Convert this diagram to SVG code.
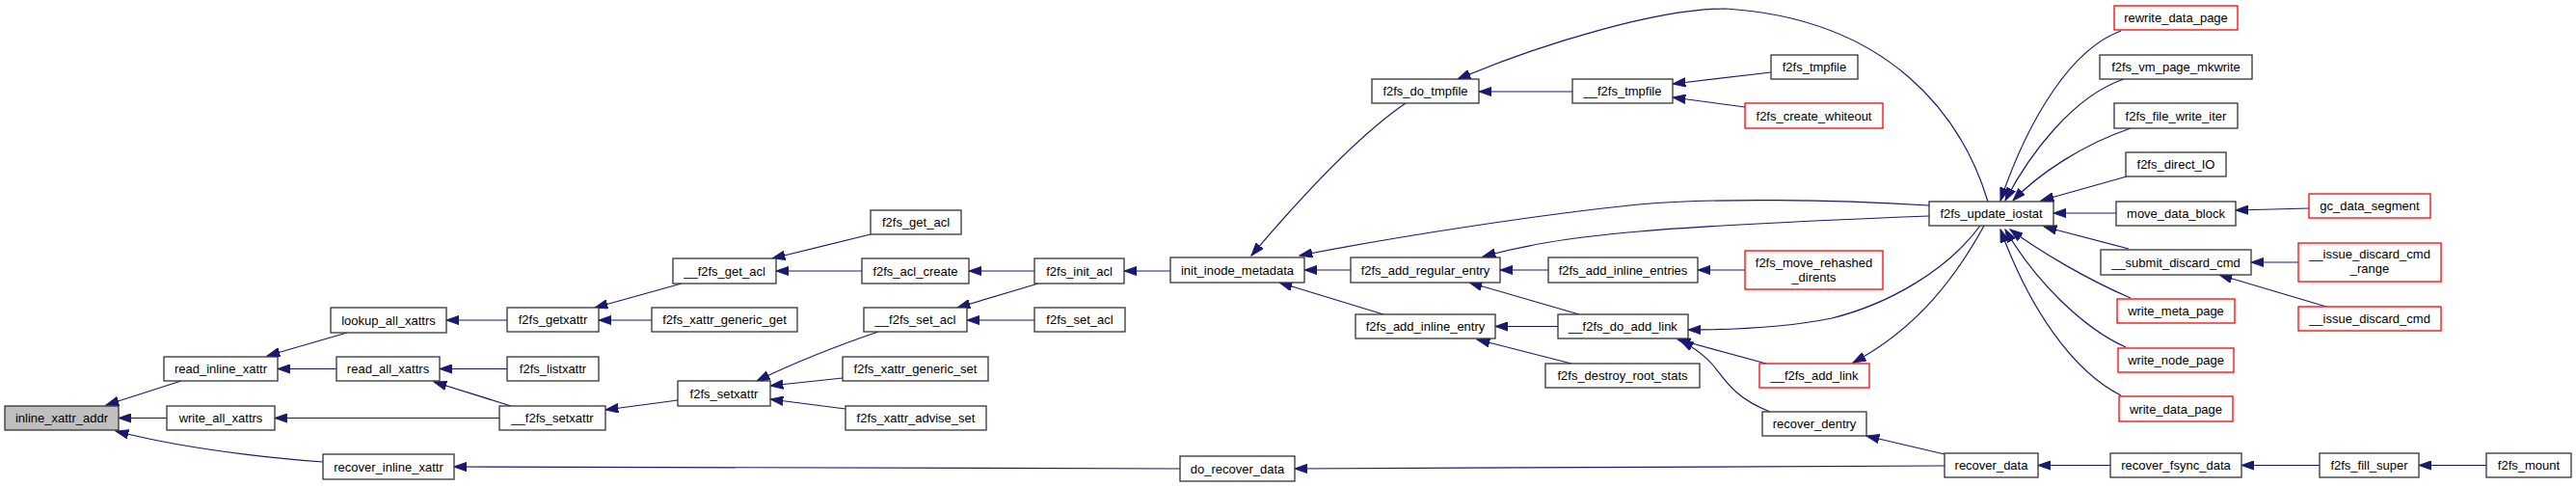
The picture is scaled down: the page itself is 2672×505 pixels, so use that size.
<svg xmlns="http://www.w3.org/2000/svg" width="2672" height="505" viewBox="0 0 2672 505">
<defs>
<style>
.n rect{fill:#fff;stroke:#333;stroke-width:1.3}
.n.root rect{fill:#bfbfbf}
.n.red rect{stroke:#f00}
.n text{font-family:"Liberation Sans",Arial,sans-serif;font-size:13px;text-anchor:middle;fill:#000}
#edges path{fill:none;stroke:#191970;stroke-width:1.2;marker-end:url(#ah)}
</style>
<marker id="ah" markerUnits="userSpaceOnUse" markerWidth="14" markerHeight="10" refX="13.3" refY="5" orient="auto" viewBox="0 0 14 10"><path d="M0,0.3 L13.3,5 L0,9.7 z" fill="#191970" stroke="#191970" stroke-width="1"/></marker>
</defs>
<rect width="2672" height="505" fill="#fff"/>
<g id="edges">
<path d="M188,395 L110,420"/>
<path d="M173,433.5 L123,433.5"/>
<path d="M335,479 C270,474 190,465 120,447"/>
<path d="M360,345 L277,369"/>
<path d="M349,382.5 L288,382.5"/>
<path d="M526,332 L463,332"/>
<path d="M526,382.5 L456,382.5"/>
<path d="M530,421 L450,396"/>
<path d="M518,433.5 L285,433.5"/>
<path d="M707,294 L617,319"/>
<path d="M676,332 L621,332"/>
<path d="M703,415 L628,425"/>
<path d="M903,243 L801,268"/>
<path d="M894,281 L805,281"/>
<path d="M911,344 C870,358 820,378 785,395"/>
<path d="M874,392 L799,400"/>
<path d="M877,424 L799,414"/>
<path d="M1073,281 L1005,281"/>
<path d="M1077,294 L993,319"/>
<path d="M1073,332 L1003,332"/>
<path d="M1214,281 L1166,281"/>
<path d="M1224,486 L471,484"/>
<path d="M1458,107 C1420,133 1370,180 1298,265"/>
<path d="M2001,213 C1900,207 1780,205 1700,212 C1600,222 1450,245 1348,265"/>
<path d="M1401,280 L1353,280"/>
<path d="M1435,326 L1327,293"/>
<path d="M2062,209 C2035,120 1960,20 1790,9 C1720,9 1600,45 1512,82"/>
<path d="M1631,95 L1534,95"/>
<path d="M1837,75 L1735,87"/>
<path d="M1810,111 L1735,101"/>
<path d="M2001,224 C1900,228 1780,233 1700,240 C1620,247 1580,255 1538,266"/>
<path d="M1606,280 L1556,280"/>
<path d="M1638,326 L1524,293"/>
<path d="M1810,280 L1761,280"/>
<path d="M1616,338.5 L1551,338.5"/>
<path d="M1630,377 L1532,352"/>
<path d="M2054,234 C2020,280 1960,315 1900,330 C1850,340 1800,342 1751,342"/>
<path d="M1832,377 L1740,352"/>
<path d="M1836,427 C1800,413 1790,395 1778,380 C1770,370 1760,362 1743,353"/>
<path d="M2058,234 C2030,285 1990,340 1922,376"/>
<path d="M2017,471 L1936,452"/>
<path d="M2017,483 L1343,486"/>
<path d="M2189,482.5 L2114,482.5"/>
<path d="M2406,482.5 L2325,482.5"/>
<path d="M2579,482.5 L2509,482.5"/>
<path d="M2200,32 C2150,50 2105,120 2075,208"/>
<path d="M2203,82 C2150,100 2105,160 2080,208"/>
<path d="M2210,133 C2160,150 2115,180 2088,208"/>
<path d="M2206,183 L2117,208"/>
<path d="M2195,221 L2130,221"/>
<path d="M2208,258 L2120,235"/>
<path d="M2210,309 C2165,290 2115,260 2085,238"/>
<path d="M2205,360 C2160,340 2110,290 2080,238"/>
<path d="M2200,410 C2150,385 2105,320 2075,238"/>
<path d="M2395,216 L2319,218"/>
<path d="M2384,272 L2335,272"/>
<path d="M2413,318 L2302,285"/>
</g>
<g id="inline_xattr_addr" class="n root"><rect x="5" y="421" width="118" height="25"/><text x="64" y="438">inline_xattr_addr</text></g>
<g id="read_inline_xattr" class="n"><rect x="170" y="370" width="118" height="25"/><text x="229" y="387">read_inline_xattr</text></g>
<g id="write_all_xattrs" class="n"><rect x="173" y="421" width="112" height="25"/><text x="229" y="438">write_all_xattrs</text></g>
<g id="recover_inline_xattr" class="n"><rect x="335" y="471" width="136" height="26"/><text x="403" y="488.5">recover_inline_xattr</text></g>
<g id="lookup_all_xattrs" class="n"><rect x="343" y="319" width="120" height="26"/><text x="403" y="336.5">lookup_all_xattrs</text></g>
<g id="read_all_xattrs" class="n"><rect x="349" y="370" width="107" height="25"/><text x="402.5" y="387">read_all_xattrs</text></g>
<g id="f2fs_getxattr" class="n"><rect x="526" y="319" width="95" height="25"/><text x="573.5" y="336">f2fs_getxattr</text></g>
<g id="f2fs_listxattr" class="n"><rect x="526" y="370" width="95" height="25"/><text x="573.5" y="387">f2fs_listxattr</text></g>
<g id="__f2fs_setxattr" class="n"><rect x="518" y="421" width="110" height="25"/><text x="573" y="438">__f2fs_setxattr</text></g>
<g id="__f2fs_get_acl" class="n"><rect x="698" y="268" width="107" height="26"/><text x="751.5" y="285.5">__f2fs_get_acl</text></g>
<g id="f2fs_xattr_generic_get" class="n"><rect x="676" y="319" width="151" height="25"/><text x="751.5" y="336">f2fs_xattr_generic_get</text></g>
<g id="f2fs_setxattr" class="n"><rect x="703" y="395" width="96" height="26"/><text x="751" y="412.5">f2fs_setxattr</text></g>
<g id="f2fs_get_acl" class="n"><rect x="903" y="218" width="94" height="25"/><text x="950" y="235">f2fs_get_acl</text></g>
<g id="f2fs_acl_create" class="n"><rect x="894" y="268" width="111" height="26"/><text x="949.5" y="285.5">f2fs_acl_create</text></g>
<g id="__f2fs_set_acl" class="n"><rect x="896" y="319" width="107" height="25"/><text x="949.5" y="336">__f2fs_set_acl</text></g>
<g id="f2fs_xattr_generic_set" class="n"><rect x="874" y="370" width="151" height="25"/><text x="949.5" y="387">f2fs_xattr_generic_set</text></g>
<g id="f2fs_xattr_advise_set" class="n"><rect x="877" y="421" width="146" height="25"/><text x="950" y="438">f2fs_xattr_advise_set</text></g>
<g id="f2fs_init_acl" class="n"><rect x="1073" y="268" width="93" height="26"/><text x="1119.5" y="285.5">f2fs_init_acl</text></g>
<g id="f2fs_set_acl" class="n"><rect x="1073" y="319" width="94" height="25"/><text x="1120" y="336">f2fs_set_acl</text></g>
<g id="init_inode_metadata" class="n"><rect x="1214" y="267" width="139" height="26"/><text x="1283.5" y="284.5">init_inode_metadata</text></g>
<g id="do_recover_data" class="n"><rect x="1224" y="473" width="119" height="26"/><text x="1283.5" y="490.5">do_recover_data</text></g>
<g id="f2fs_do_tmpfile" class="n"><rect x="1423" y="82" width="111" height="25"/><text x="1478.5" y="99">f2fs_do_tmpfile</text></g>
<g id="__f2fs_tmpfile" class="n"><rect x="1631" y="82" width="104" height="25"/><text x="1683" y="99">__f2fs_tmpfile</text></g>
<g id="f2fs_add_regular_entry" class="n"><rect x="1401" y="267" width="155" height="26"/><text x="1478.5" y="284.5">f2fs_add_regular_entry</text></g>
<g id="f2fs_add_inline_entries" class="n"><rect x="1606" y="267" width="155" height="26"/><text x="1683.5" y="284.5">f2fs_add_inline_entries</text></g>
<g id="f2fs_add_inline_entry" class="n"><rect x="1406" y="326" width="145" height="25"/><text x="1478.5" y="343">f2fs_add_inline_entry</text></g>
<g id="__f2fs_do_add_link" class="n"><rect x="1616" y="326" width="135" height="25"/><text x="1683.5" y="343">__f2fs_do_add_link</text></g>
<g id="f2fs_destroy_root_stats" class="n"><rect x="1603" y="377" width="160" height="25"/><text x="1683" y="394">f2fs_destroy_root_stats</text></g>
<g id="f2fs_tmpfile" class="n"><rect x="1837" y="57" width="90" height="25"/><text x="1882" y="74">f2fs_tmpfile</text></g>
<g id="f2fs_create_whiteout" class="n red"><rect x="1810" y="107" width="143" height="26"/><text x="1881.5" y="124.5">f2fs_create_whiteout</text></g>
<g id="f2fs_update_iostat" class="n"><rect x="2001" y="209" width="129" height="25"/><text x="2065.5" y="226">f2fs_update_iostat</text></g>
<g id="f2fs_move_rehashed_dirents" class="n red"><rect x="1810" y="260" width="143" height="40"/><text x="1881.5" y="276.5">f2fs_move_rehashed</text><text x="1881.5" y="291.5">_dirents</text></g>
<g id="__f2fs_add_link" class="n red"><rect x="1825" y="377" width="114" height="25"/><text x="1882" y="394">__f2fs_add_link</text></g>
<g id="recover_dentry" class="n"><rect x="1828" y="427" width="108" height="25"/><text x="1882" y="444">recover_dentry</text></g>
<g id="recover_data" class="n"><rect x="2017" y="470" width="97" height="25"/><text x="2065.5" y="487">recover_data</text></g>
<g id="rewrite_data_page" class="n red"><rect x="2193" y="6" width="128" height="25"/><text x="2257" y="23">rewrite_data_page</text></g>
<g id="f2fs_vm_page_mkwrite" class="n"><rect x="2178" y="57" width="158" height="25"/><text x="2257" y="74">f2fs_vm_page_mkwrite</text></g>
<g id="f2fs_file_write_iter" class="n"><rect x="2193" y="107" width="128" height="26"/><text x="2257" y="124.5">f2fs_file_write_iter</text></g>
<g id="f2fs_direct_IO" class="n"><rect x="2205" y="158" width="104" height="25"/><text x="2257" y="175">f2fs_direct_IO</text></g>
<g id="move_data_block" class="n"><rect x="2195" y="209" width="124" height="25"/><text x="2257" y="226">move_data_block</text></g>
<g id="__submit_discard_cmd" class="n"><rect x="2179" y="259" width="156" height="26"/><text x="2257" y="276.5">__submit_discard_cmd</text></g>
<g id="write_meta_page" class="n red"><rect x="2196" y="310" width="122" height="25"/><text x="2257" y="327">write_meta_page</text></g>
<g id="write_node_page" class="n red"><rect x="2197" y="361" width="120" height="25"/><text x="2257" y="378">write_node_page</text></g>
<g id="write_data_page" class="n red"><rect x="2198" y="411" width="118" height="26"/><text x="2257" y="428.5">write_data_page</text></g>
<g id="recover_fsync_data" class="n"><rect x="2189" y="470" width="136" height="25"/><text x="2257" y="487">recover_fsync_data</text></g>
<g id="gc_data_segment" class="n red"><rect x="2395" y="201" width="126" height="25"/><text x="2458" y="218">gc_data_segment</text></g>
<g id="__issue_discard_cmd_range" class="n red"><rect x="2384" y="252" width="148" height="40"/><text x="2458" y="268">__issue_discard_cmd</text><text x="2458" y="283">_range</text></g>
<g id="__issue_discard_cmd" class="n red"><rect x="2384" y="318" width="148" height="25"/><text x="2458" y="335">__issue_discard_cmd</text></g>
<g id="f2fs_fill_super" class="n"><rect x="2406" y="470" width="103" height="25"/><text x="2457.5" y="487">f2fs_fill_super</text></g>
<g id="f2fs_mount" class="n"><rect x="2579" y="470" width="88" height="25"/><text x="2623" y="487">f2fs_mount</text></g>
</svg>
